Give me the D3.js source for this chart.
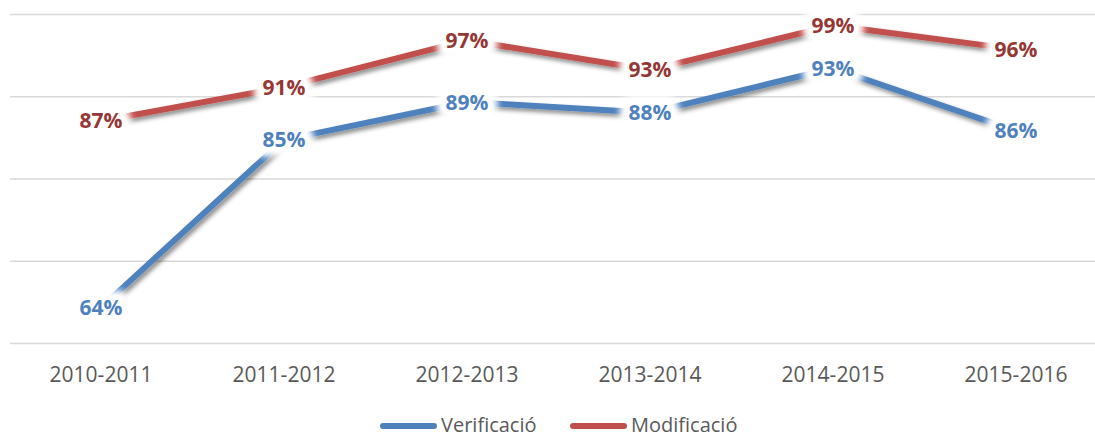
<!DOCTYPE html>
<html>
<head>
<meta charset="utf-8">
<script src="https://cdn.jsdelivr.net/npm/d3@7"></script>
<style>
  html, body { margin: 0; padding: 0; background: #ffffff; }
  svg { display: block; }
</style>
</head>
<body>
<svg id="chart" width="1095" height="437"></svg>
<script>
const categories = ["2010-2011", "2011-2012", "2012-2013", "2013-2014", "2014-2015", "2015-2016"];
const verificacio = [0.643, 0.847, 0.893, 0.880, 0.934, 0.858];
const modificacio = [0.870, 0.911, 0.968, 0.932, 0.986, 0.957];
const seriesNames = ["Verificació", "Modificació"];
const yTicks = [0.6, 0.7, 0.8, 0.9, 1.0];

const W = 1095, H = 437;
const svg = d3.select("#chart");
const font = "'Open Sans', 'Liberation Sans', sans-serif";

const x = d3.scaleBand().domain(categories).range([9.5, 1107.5]).padding(0);
const y = d3.scaleLinear().domain([0.6, 1.0]).range([343, 14]);

const defs = svg.append("defs");
const sh = defs.append("filter").attr("id", "shadow")
  .attr("x", "-10%").attr("y", "-30%").attr("width", "130%").attr("height", "180%");
sh.append("feDropShadow").attr("dx", 2.5).attr("dy", 3).attr("stdDeviation", 2)
  .attr("flood-color", "#000").attr("flood-opacity", 0.45);
const glow = defs.append("filter").attr("id", "glow")
  .attr("x", "-50%").attr("y", "-80%").attr("width", "200%").attr("height", "260%");
glow.append("feGaussianBlur").attr("stdDeviation", 3);

// gridlines
const yAxis = d3.axisLeft(y).tickValues(yTicks).tickSize(-(W - 10)).tickFormat("");
const gy = svg.append("g").attr("transform", "translate(10,0)").call(yAxis);
gy.select(".domain").remove();
gy.selectAll(".tick line").attr("stroke", "#d9d9d9").attr("stroke-width", 1.5);

// x axis labels
const xAxis = d3.axisBottom(x).tickSize(0).tickPadding(0);
const gx = svg.append("g").attr("transform", "translate(0,343)").call(xAxis);
gx.select(".domain").remove();
gx.selectAll(".tick text")
  .attr("dy", null).attr("y", 39)
  .attr("font-family", font).attr("font-size", 21).attr("fill", "#595959");

const series = [
  { name: seriesNames[0], values: verificacio, color: "#4F81BD", labelColor: "#4F81BD" },
  { name: seriesNames[1], values: modificacio, color: "#C0504D", labelColor: "#953735" }
];

const line = d3.line()
  .x((d, i) => x(categories[i]) + x.bandwidth() / 2)
  .y(d => y(d));

series.forEach(s => {
  svg.append("path")
    .datum(s.values)
    .attr("d", line)
    .attr("fill", "none")
    .attr("stroke", s.color)
    .attr("stroke-width", 6)
    .attr("stroke-linejoin", "round")
    .attr("filter", "url(#shadow)");
});

const fmt = d3.format(".0%");
series.forEach(s => {
  const g = svg.append("g");
  const data = s.values.map((v, i) => ({ v, c: categories[i] }));
  const base = sel => sel
    .attr("x", d => x(d.c) + x.bandwidth() / 2)
    .attr("y", d => y(d.v))
    .attr("dy", "0.36em")
    .attr("text-anchor", "middle")
    .attr("font-family", font).attr("font-weight", "bold").attr("font-size", 21)
    .text(d => fmt(d.v));
  g.selectAll("text.halo").data(data).join("text").attr("class", "halo").call(base)
    .attr("fill", "#fff").attr("stroke", "#fff").attr("stroke-width", 20)
    .attr("stroke-linejoin", "round").attr("filter", "url(#glow)");
  g.selectAll("text.halo2").data(data).join("text").attr("class", "halo2").call(base)
    .attr("fill", "#fff").attr("stroke", "#fff").attr("stroke-width", 9)
    .attr("stroke-linejoin", "round");
  g.selectAll("text.lbl").data(data).join("text").attr("class", "lbl").call(base)
    .attr("fill", s.labelColor);
});

// legend
const legendX = [380, 570];
series.forEach((s, i) => {
  const lg = svg.append("g").attr("transform", `translate(${legendX[i]},426)`);
  lg.append("line").attr("x1", 3).attr("x2", 54).attr("y1", 0).attr("y2", 0)
    .attr("stroke", s.color).attr("stroke-width", 6).attr("stroke-linecap", "round");
  lg.append("text").attr("x", 61).attr("y", 6)
    .attr("font-family", font).attr("font-size", 20).attr("fill", "#595959")
    .text(s.name);
});
</script>
</body>
</html>
